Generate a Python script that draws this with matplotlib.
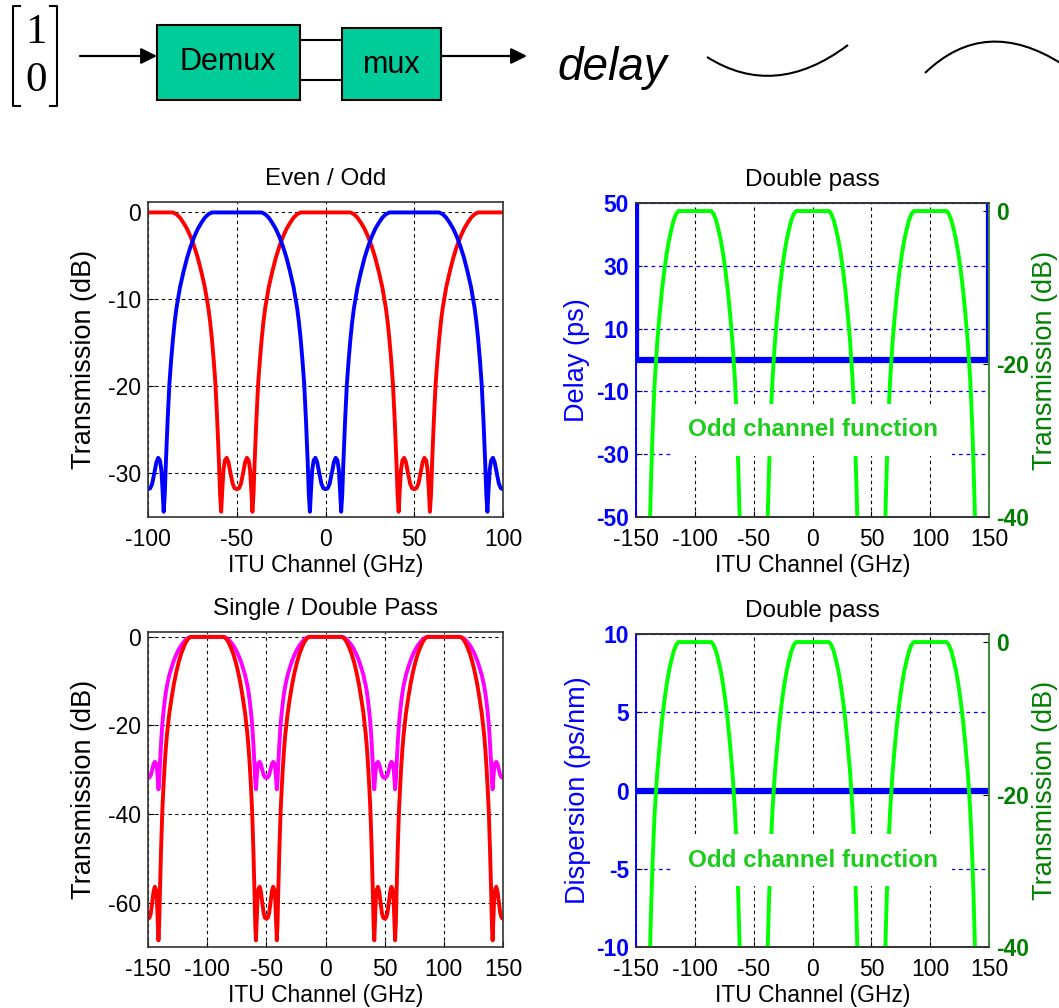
import matplotlib
matplotlib.use("Agg")
import matplotlib.pyplot as plt
import numpy as np
from matplotlib import font_manager
from matplotlib.patches import Rectangle, PathPatch
from matplotlib.path import Path

plt.rcParams['axes.unicode_minus'] = False

# narrow face for horizontal text if it is there, otherwise a smaller regular face
names = {f.name for f in font_manager.fontManager.ttflist}
if 'Liberation Sans Narrow' in names:
    HFONT = ['Liberation Sans Narrow', 'DejaVu Sans']
    HSIZE = 20
else:
    HFONT = ['Liberation Sans', 'DejaVu Sans']
    HSIZE = 16.5
VFONT = ['Liberation Sans', 'DejaVu Sans']
VSIZE = 19.5
plt.rcParams['font.family'] = HFONT

# one channel of the interleaver: offset from passband centre (GHz) -> dB
OFFSET_GHZ = [0, 14, 16, 18, 20, 22, 24, 26, 28, 30, 32, 34, 35, 36, 37, 38,
              39, 40, 40.6, 41.2, 41.8, 42.5, 43.3, 44.3, 45.3, 46.5, 47.7, 48.8, 50]
SINGLE_DB = [0, 0, -0.2, -0.6, -1.2, -1.9, -2.8, -3.9, -5.2, -6.8, -8.6, -11.0, -12.6,
             -14.6, -17.0, -19.8, -24.0, -29.0, -32.5, -34.4, -32.0, -29.6, -28.5,
             -28.2, -28.7, -30.0, -31.2, -31.7, -31.8]
DOUBLE_DB = [0, 0, -0.4, -1.2, -2.4, -3.8, -5.6, -7.8, -10.4, -13.6, -17.2, -22.0, -25.2,
             -29.2, -34.0, -39.6, -48.0, -58.0, -65.0, -68.5, -64.0, -59.2, -57.0,
             -56.4, -57.4, -60.0, -62.4, -63.4, -63.6]

EVEN_CENTRES = [-100, 0, 100]
ODD_CENTRES = [-150, -50, 50, 150]

# delay / dispersion of the double-pass odd channel
DELAY_X = [-150, -150, 150, 150]
DELAY_PS = [60, 0, 0, 60]
DISP_X = [-150, 150]
DISP_PSNM = [0, 0]


def passband_train(centres, profile):
    d = np.asarray(OFFSET_GHZ, dtype=float)
    p = np.asarray(profile, dtype=float)
    xs, ys = [], []
    for c in centres:
        xs.append(np.concatenate([c - d[::-1], c + d[1:]]))
        ys.append(np.concatenate([p[::-1], p[1:]]))
    return np.concatenate(xs), np.concatenate(ys)


def style_axes(ax):
    for s in ax.spines.values():
        s.set_color('#333333')
        s.set_linewidth(1.2)
    ax.tick_params(direction='in', length=4, labelsize=HSIZE, pad=5)
    ax.tick_params(axis='x', pad=8)


def left_plot(ax, title, xlim, xticks, ylim, yticks):
    style_axes(ax)
    ax.set_xlim(*xlim)
    ax.set_ylim(*ylim)
    ax.set_xticks(xticks)
    ax.set_yticks(yticks)
    ax.grid(True, color='k', ls=(0, (3, 3)), lw=0.8)
    ax.set_title(title, fontsize=HSIZE + 1, pad=12)
    ax.set_xlabel('ITU Channel (GHz)', fontsize=HSIZE, labelpad=2)
    ax.set_ylabel('Transmission (dB)', fontsize=VSIZE, family=VFONT, labelpad=8)


def right_plot(ax, title, xdata, ydata, ylim, yticks, ylabel):
    style_axes(ax)
    ax.plot(xdata, ydata, color='blue', lw=4.5, solid_capstyle='butt')
    ax.set_xlim(-150, 150)
    ax.set_xticks(range(-150, 151, 50))
    ax.set_ylim(*ylim)
    ax.set_yticks(yticks)
    ax.grid(True, axis='x', color='k', ls=(0, (3, 3)), lw=0.8)
    ax.grid(True, axis='y', color='#0000FF', ls=(0, (3, 3)), lw=0.9)
    ax.set_title(title, fontsize=HSIZE + 1, pad=12)
    ax.set_xlabel('ITU Channel (GHz)', fontsize=HSIZE, labelpad=2)
    ax.set_ylabel(ylabel, fontsize=VSIZE, family=VFONT, color='blue', labelpad=4)
    for lab in ax.get_yticklabels():
        lab.set_color('blue')
        lab.set_fontweight('bold')

    ax2 = ax.twinx()
    x, y = passband_train(EVEN_CENTRES, DOUBLE_DB)
    ax2.plot(x, y, color='#00FF00', lw=2.8)
    ax2.set_ylim(-40, 1.05)
    ax2.set_yticks([-40, -20, 0])
    ax2.tick_params(direction='in', length=4, labelsize=HSIZE, pad=5)
    for lab in ax2.get_yticklabels():
        lab.set_color('#008000')
        lab.set_fontweight('bold')
    ax2.set_ylabel('Transmission (dB)', fontsize=VSIZE, family=VFONT,
                   color='#008000', labelpad=2)
    for a in (ax, ax2):
        for side, s in a.spines.items():
            s.set_linewidth(1.2)
            s.set_color({'left': 'blue', 'right': '#3C8C3C'}.get(side, '#333333'))
    # label sits on a white card in the lower half, in transmission units
    ax2.text(0, -28.6, 'Odd channel function', ha='center', va='center',
             fontsize=HSIZE + 1, fontweight='bold', color='#1ECC1E', zorder=10,
             bbox=dict(boxstyle='square,pad=0.6', fc='white', ec='none'))
    return ax2


fig = plt.figure(figsize=(10.59, 10.08), dpi=100)

# block diagram across the top
dax = fig.add_axes([0, 0, 1, 1])
dax.set_xlim(0, 1059)
dax.set_ylim(1008, 0)
dax.axis('off')
dax.plot([20, 13, 13, 20], [6, 6, 106, 106], color='k', lw=1.5)
dax.plot([50, 57, 57, 50], [6, 6, 106, 106], color='k', lw=1.5)
dax.text(36, 33, '1', ha='center', va='center', fontsize=31, family='Liberation Serif')
dax.text(36, 81, '0', ha='center', va='center', fontsize=31, family='Liberation Serif')
arrow = dict(arrowstyle='-|>', color='k', lw=1.6, mutation_scale=24, shrinkA=0, shrinkB=0)
dax.annotate('', xy=(157, 56), xytext=(80, 56), arrowprops=arrow)
dax.annotate('', xy=(527, 56), xytext=(441, 56), arrowprops=arrow)
dax.add_patch(Rectangle((157, 25), 143, 75, fc='#00CC99', ec='k', lw=1.5))
dax.add_patch(Rectangle((342, 28), 99, 72, fc='#00CC99', ec='k', lw=1.5))
dax.plot([300, 342], [40, 40], color='k', lw=1.5)
dax.plot([300, 342], [80, 80], color='k', lw=1.5)
dax.text(228, 62, 'Demux', ha='center', va='center', fontsize=22, family=VFONT)
dax.text(392, 65, 'mux', ha='center', va='center', fontsize=22, family=VFONT)
dax.text(612, 68, 'delay', ha='center', va='center', fontsize=33, style='italic',
         family=VFONT)
dax.add_patch(PathPatch(Path([(707, 57), (775, 100), (848, 45)],
                             [Path.MOVETO, Path.CURVE3, Path.CURVE3]),
                        fc='none', ec='k', lw=1.5))
dax.add_patch(PathPatch(Path([(925, 73), (985, 15), (1062, 64)],
                             [Path.MOVETO, Path.CURVE3, Path.CURVE3]),
                        fc='none', ec='k', lw=1.5))

# even / odd single pass
ax = fig.add_axes([0.1398, 0.4871, 0.3352, 0.3125])
x, y = passband_train(EVEN_CENTRES, SINGLE_DB)
ax.plot(x, y, color='red', lw=2.8)
x, y = passband_train(ODD_CENTRES, SINGLE_DB)
ax.plot(x, y, color='blue', lw=2.8)
left_plot(ax, 'Even / Odd', (-100, 100), range(-100, 101, 50), (-35, 1.2), [-30, -20, -10, 0])

# single vs double pass
ax = fig.add_axes([0.1398, 0.0605, 0.3352, 0.3125])
x, y = passband_train(EVEN_CENTRES, SINGLE_DB)
ax.plot(x, y, color='#FF00FF', lw=2.8)
x, y = passband_train(EVEN_CENTRES, DOUBLE_DB)
ax.plot(x, y, color='red', lw=2.8)
left_plot(ax, 'Single / Double Pass', (-150, 150), range(-150, 151, 50), (-70, 1.1),
          [-60, -40, -20, 0])

# double pass: delay and dispersion
ax = fig.add_axes([0.6006, 0.4871, 0.3333, 0.3115])
right_plot(ax, 'Double pass', DELAY_X, DELAY_PS, (-50, 50), [-50, -30, -10, 10, 30, 50],
           'Delay (ps)')

ax = fig.add_axes([0.6006, 0.0605, 0.3333, 0.3105])
right_plot(ax, 'Double pass', DISP_X, DISP_PSNM, (-10, 10), [-10, -5, 0, 5, 10],
           'Dispersion (ps/nm)')

fig.savefig('out.png', dpi=100)
